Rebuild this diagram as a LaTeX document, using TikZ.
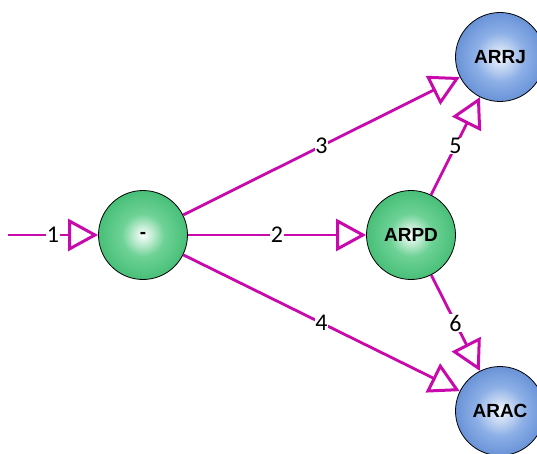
\documentclass[tikz,border=0pt]{standalone}
\usepackage{fontspec}
\setmainfont{Liberation Sans}
\newfontfamily\labfont{Carlito}
\usetikzlibrary{arrows.meta}
\definecolor{edgec}{RGB}{200,10,172}
\definecolor{gd}{RGB}{34,172,90}
\definecolor{gm}{RGB}{110,210,150}
\definecolor{bd}{RGB}{58,108,196}
\definecolor{bm}{RGB}{140,175,230}
\pgfdeclareradialshading{gball}{\pgfpoint{0bp}{0bp}}{color(0bp)=(white); color(12bp)=(gm); color(38bp)=(gd); color(50bp)=(gd); color(100bp)=(gd)}
\pgfdeclareradialshading{bball}{\pgfpoint{0bp}{0bp}}{color(0bp)=(white!90!bm); color(14bp)=(bm); color(40bp)=(bd); color(50bp)=(bd); color(100bp)=(bd)}
\tikzset{
  ball/.style={circle, draw=black, line width=0.8pt, minimum size=89pt, inner sep=0pt,
    font=\fontsize{19}{21}\selectfont\bfseries},
  greenball/.style={ball, shading=gball},
  blueball/.style={ball, shading=bball},
  conn/.style={draw=edgec, line width=2.8pt,
    -{Triangle[open, length=30pt, width=32pt, line width=3pt]}},
  lab/.style={fill=white, inner sep=0.5pt, font=\labfont\fontsize{24}{26}\selectfont}
}
\begin{document}
\begin{tikzpicture}[x=1pt,y=-1pt]
\useasboundingbox (0,0) rectangle (537,454);
\node[greenball] (m) at (143,235) {-};
\node[greenball] (arpd) at (411,235) {ARPD};
\node[blueball] (arrj) at (500,57) {ARRJ};
\node[blueball] (arac) at (500,411) {ARAC};
\coordinate (s) at (8,235);
\draw[conn] (s) -- node[lab] {1} (m);
\draw[conn] (m) -- node[lab] {2} (arpd);
\draw[conn] (m) -- node[lab] {3} (arrj);
\draw[conn] (m) -- node[lab] {4} (arac);
\draw[conn] (arpd) -- node[lab] {5} (arrj);
\draw[conn] (arpd) -- node[lab] {6} (arac);
\end{tikzpicture}
\end{document}
